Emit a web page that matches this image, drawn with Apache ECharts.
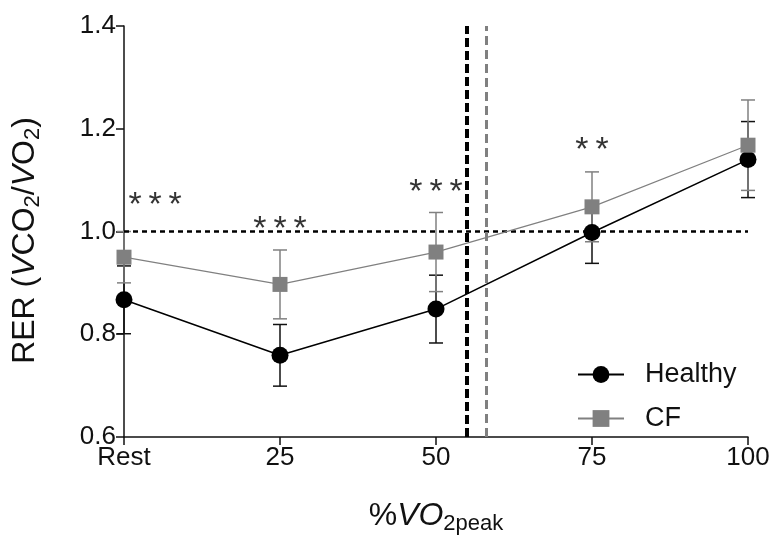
<!DOCTYPE html>
<html>
<head>
<meta charset="utf-8">
<script src="https://cdn.jsdelivr.net/npm/echarts@6/dist/echarts.min.js"></script>
<style>
html,body{margin:0;padding:0;background:#fff;}
#chart{width:774px;height:540px;}
</style>
</head>
<body>
<div id="chart"></div>
<script>
// ---- data ----
const xValues = [0, 25, 50, 75, 100];           // % VO2peak (0 = Rest)
const xTickLabels = ['Rest', '25', '50', '75', '100'];
const healthyMean = [0.867, 0.759, 0.849, 0.998, 1.140];
const healthyErr  = [0.066, 0.060, 0.066, 0.060, 0.074];
const cfMean      = [0.950, 0.897, 0.960, 1.048, 1.168];
const cfErr       = [0.050, 0.067, 0.077, 0.068, 0.088];
const sigLabels = ['***', '***', '***', '**'];
const sigX      = [5, 25, 50, 75];
const sigY      = [1.067, 1.021, 1.094, 1.175];
const refLineY = 1.0;
const thresholdHealthy = 55;
const thresholdCF = 58;

const FONT = '"Liberation Sans", Arial, sans-serif';
const GRAY = '#808080';

function pts(means) { return xValues.map((x, i) => [x, means[i]]); }
function errData(means, errs) { return xValues.map((x, i) => [x, means[i] - errs[i], means[i] + errs[i]]); }

function errorBar(color, width) {
  return function (params, api) {
    const x = api.value(0);
    const lo = api.coord([x, api.value(1)]);
    const hi = api.coord([x, api.value(2)]);
    const hw = 7;
    const style = { stroke: color, lineWidth: width, fill: null };
    return {
      type: 'group',
      children: [
        { type: 'line', shape: { x1: lo[0], y1: lo[1], x2: hi[0], y2: hi[1] }, style },
        { type: 'line', shape: { x1: lo[0] - hw, y1: lo[1], x2: lo[0] + hw, y2: lo[1] }, style },
        { type: 'line', shape: { x1: hi[0] - hw, y1: hi[1], x2: hi[0] + hw, y2: hi[1] }, style }
      ]
    };
  };
}

const chart = echarts.init(document.getElementById('chart'), null, { renderer: 'canvas' });
chart.setOption({
  animation: false,
  backgroundColor: '#fff',
  textStyle: { fontFamily: FONT, color: '#111' },
  grid: { left: 124, right: 26, top: 26, bottom: 98, containLabel: false },
  legend: {
    data: ['Healthy', 'CF'],
    orient: 'vertical',
    left: 572,
    top: 356,
    itemWidth: 46,
    itemHeight: 21,
    itemGap: 17,
    textStyle: { fontFamily: FONT, fontSize: 27, color: '#111', padding: [0, 0, 0, 16] }
  },
  xAxis: {
    type: 'value', min: 0, max: 100, interval: 25,
    axisLine: { lineStyle: { color: '#111', width: 1.5 } },
    axisTick: { length: 8, lineStyle: { color: '#111', width: 1.5 } },
    splitLine: { show: false },
    axisLabel: {
      fontFamily: FONT, fontSize: 26, color: '#111', margin: 8,
      formatter: (v) => xTickLabels[xValues.indexOf(v)]
    },
    name: '{p|%}{i|VO}{s|2peak}',
    nameLocation: 'middle',
    nameGap: 60,
    nameTextStyle: {
      rich: {
        p: { fontFamily: FONT, fontSize: 32, color: '#111' },
        i: { fontFamily: FONT, fontSize: 32, fontStyle: 'italic', color: '#111' },
        s: { fontFamily: FONT, fontSize: 22, color: '#111', verticalAlign: 'bottom', padding: [16, 0, 0, 0] }
      }
    }
  },
  yAxis: {
    type: 'value', min: 0.6, max: 1.4, interval: 0.2,
    axisLine: { show: true, lineStyle: { color: '#111', width: 1.5 } },
    axisTick: { show: true, length: 8, lineStyle: { color: '#111', width: 1.5 } },
    splitLine: { show: false },
    axisLabel: { fontFamily: FONT, fontSize: 26, color: '#111', margin: 8, formatter: (v) => v.toFixed(1) },
    name: '{n|RER (}{i|V}{n|CO}{s|2}{n|/}{i|V}{n|O}{s|2}{n|)}',
    nameLocation: 'middle',
    nameGap: 80,
    nameRotate: 90,
    nameTextStyle: {
      padding: [0, 18, 0, 0],
      rich: {
        n: { fontFamily: FONT, fontSize: 32, color: '#111' },
        i: { fontFamily: FONT, fontSize: 32, fontStyle: 'italic', color: '#111' },
        s: { fontFamily: FONT, fontSize: 22, color: '#111', verticalAlign: 'bottom', padding: [15, 0, 0, 0] }
      }
    }
  },
  series: [
    {
      type: 'custom', name: 'HealthyErr', renderItem: errorBar('#111', 1.5),
      data: errData(healthyMean, healthyErr), z: 2, silent: true
    },
    {
      type: 'custom', name: 'CFErr', renderItem: errorBar(GRAY, 1.5),
      data: errData(cfMean, cfErr), z: 2, silent: true
    },
    {
      type: 'line', name: 'Healthy', data: pts(healthyMean), z: 4,
      symbol: 'circle', symbolSize: 17,
      itemStyle: { color: '#000' },
      lineStyle: { color: '#000', width: 1.5 },
      markLine: {
        silent: true, symbol: 'none', label: { show: false },
        data: [
          { yAxis: refLineY, lineStyle: { color: '#000', width: 2.5, type: [5, 4] } },
          { xAxis: thresholdHealthy, lineStyle: { color: '#000', width: 4, type: [9, 4] } },
          { xAxis: thresholdCF, lineStyle: { color: GRAY, width: 3, type: [9, 5] } }
        ]
      }
    },
    {
      type: 'line', name: 'CF', data: pts(cfMean), z: 5,
      symbol: 'rect', symbolSize: 15,
      itemStyle: { color: GRAY },
      lineStyle: { color: GRAY, width: 1.2 }
    },
    {
      type: 'scatter', name: 'sig', symbolSize: 0, z: 6, silent: true,
      data: sigX.map((x, i) => [x, sigY[i]]),
      label: {
        show: true, position: 'inside', offset: [0, 9],
        fontFamily: FONT, fontSize: 34, color: '#000',
        formatter: (p) => sigLabels[p.dataIndex].split('').join('\u2009')
      }
    }
  ]
});
</script>
</body>
</html>
